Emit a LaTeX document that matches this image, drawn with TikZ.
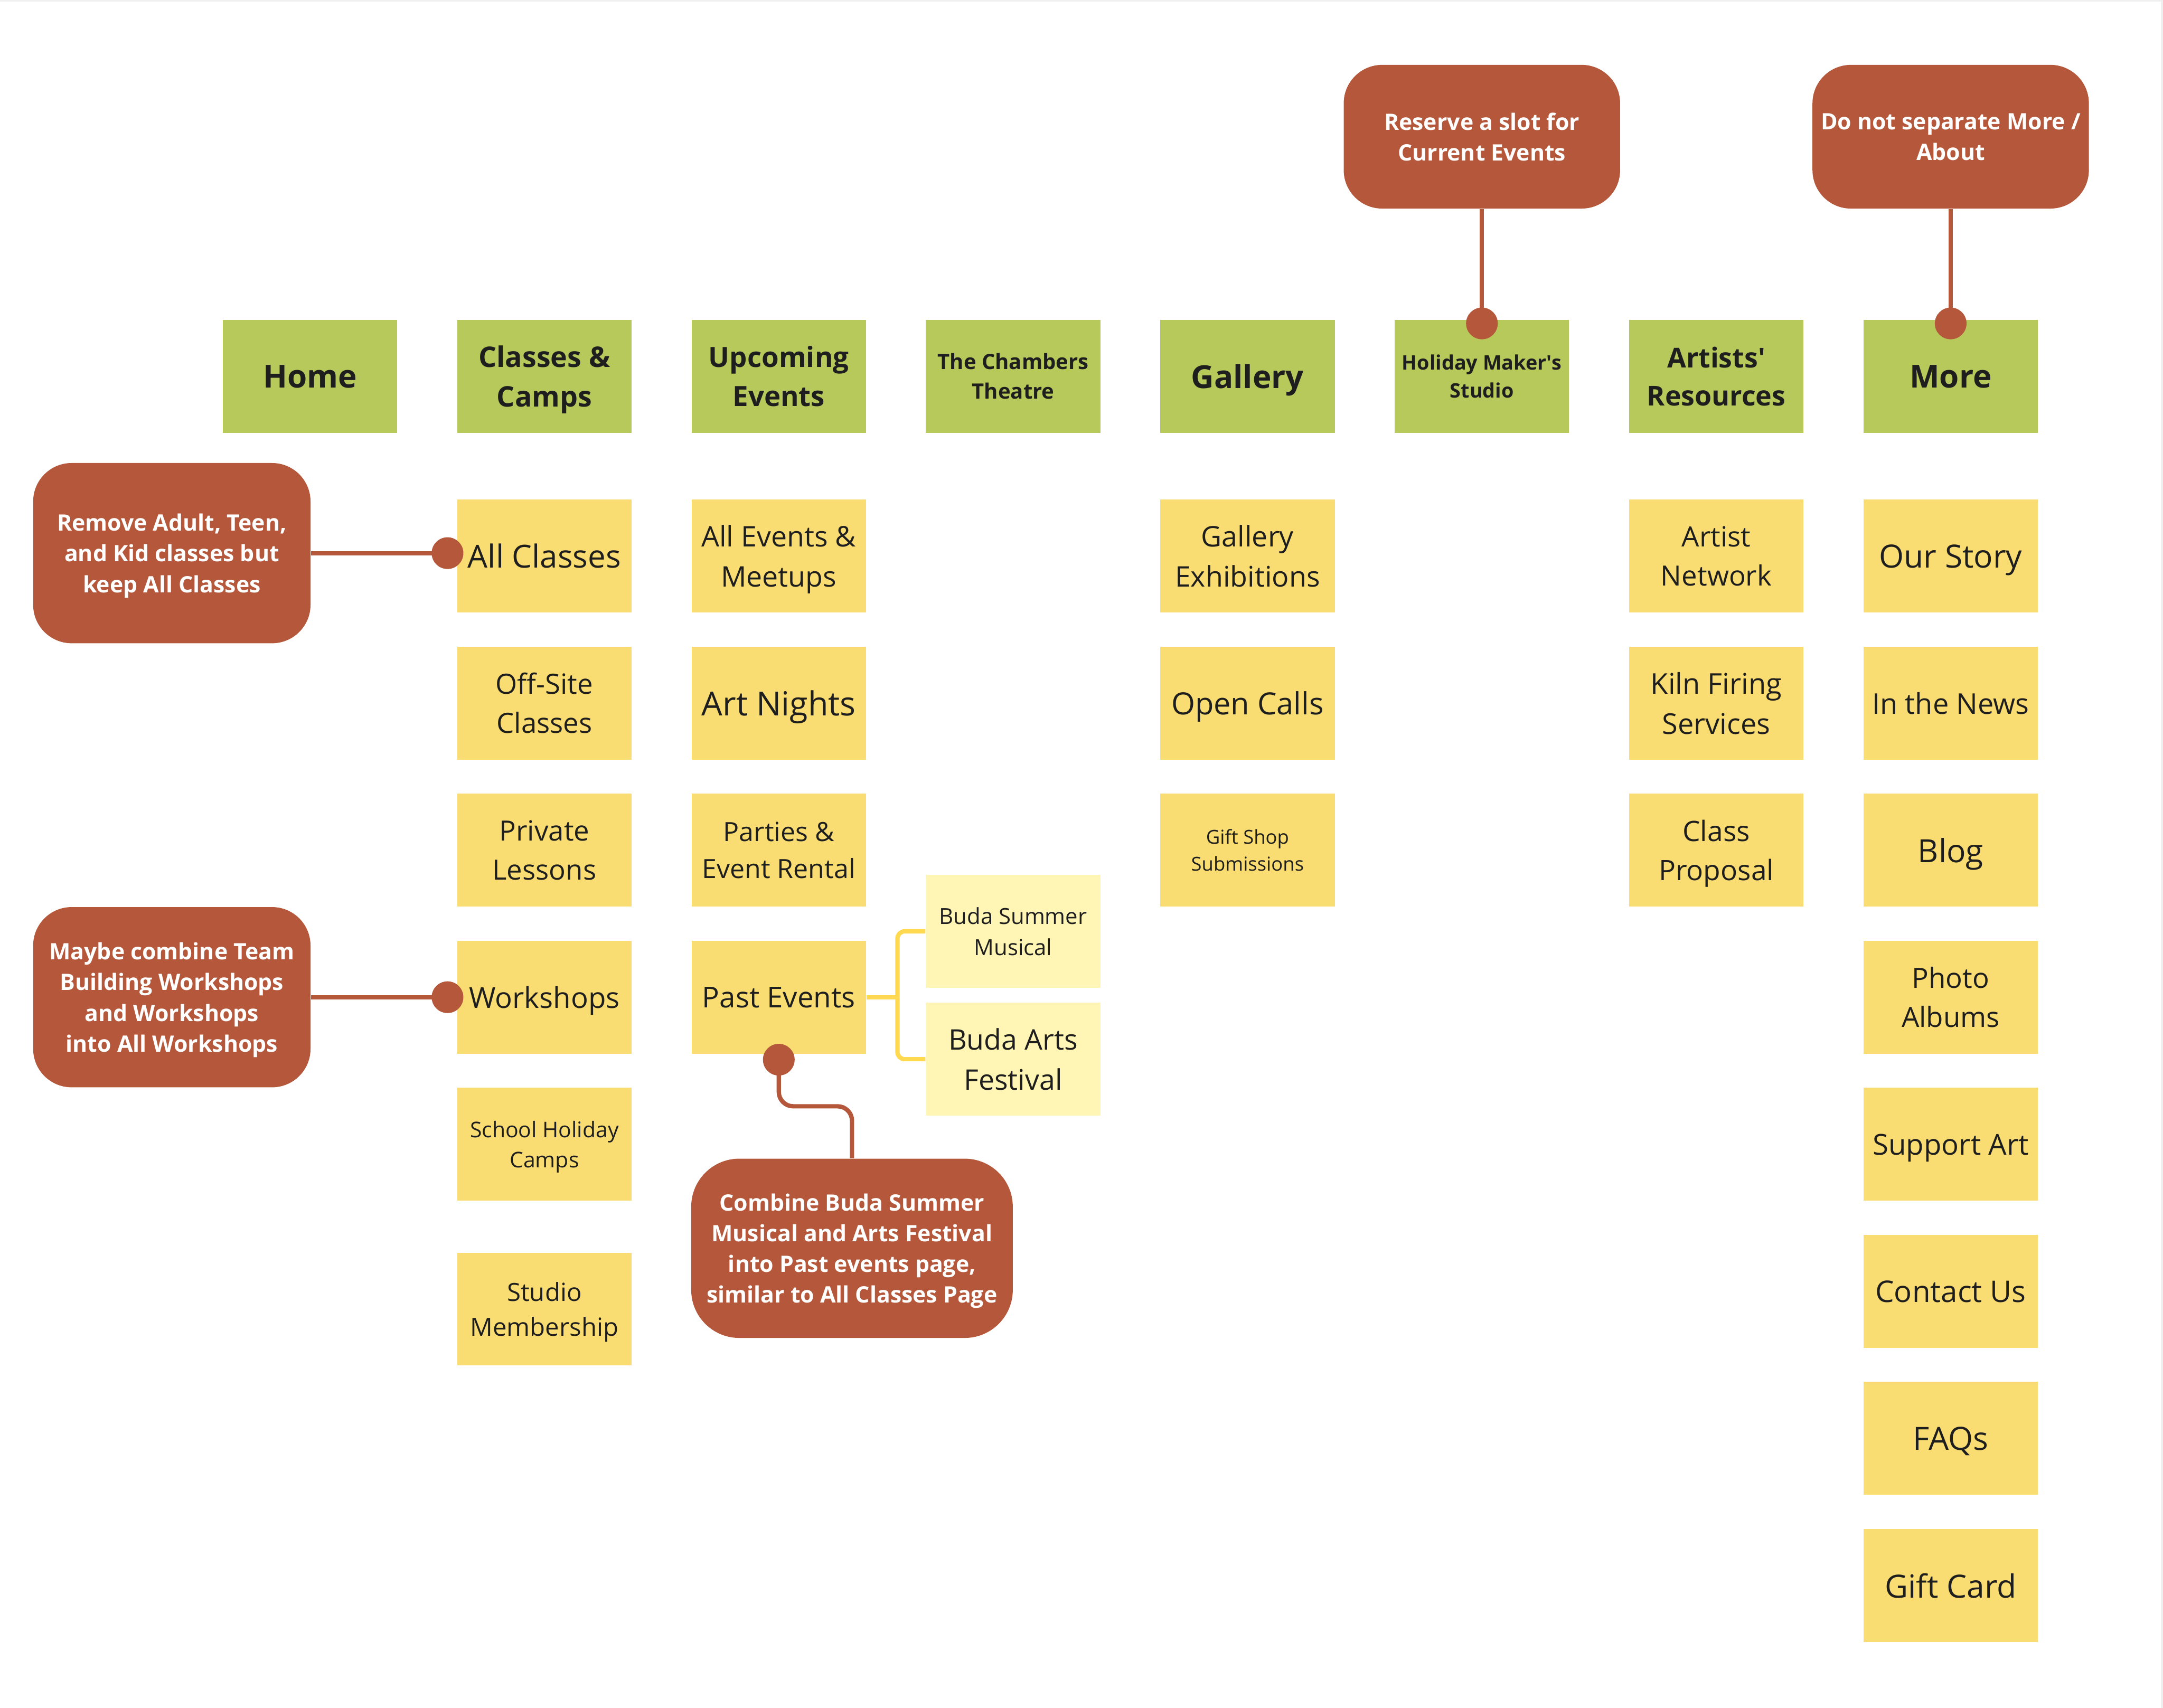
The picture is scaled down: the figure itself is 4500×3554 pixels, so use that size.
\documentclass[tikz,border=0pt]{standalone}
\usepackage{fontspec}
\setmainfont{Open Sans}
\definecolor{hdr}{HTML}{B8C95B}
\definecolor{itm}{HTML}{F9DD72}
\definecolor{subc}{HTML}{FFF5B4}
\definecolor{note}{HTML}{B5573A}
\definecolor{brk}{HTML}{FFD94F}
\definecolor{ink}{HTML}{1E1E1E}
\definecolor{edge}{HTML}{EFEFEF}
\newcommand\fsz[1]{\fontsize{#1}{\dimexpr #1pt*14/10\relax}\selectfont}
\tikzset{
  box/.style={rectangle, minimum width=72.6pt, minimum height=47pt, inner sep=0pt, align=center, text=ink, text depth=0pt},
  hdrbox/.style={box, fill=hdr},
  itmbox/.style={box, fill=itm},
  subbox/.style={box, fill=subc},
  notebox/.style={rectangle, rounded corners=16pt, fill=note, text=white, align=center, inner sep=0pt, text depth=0pt,
    font=\bfseries\fontsize{9.4}{12.8}\selectfont},
  wire/.style={draw=note, line width=1.8pt},
  dotc/.style={circle, fill=note, minimum size=13.2pt, inner sep=0pt},
  bracew/.style={draw=brk, line width=1.8pt, rounded corners=3pt}
}
\begin{document}
\begin{tikzpicture}[x=0.2pt, y=-0.2pt]
\useasboundingbox (0,0) rectangle (4500,3554);
\fill[white] (0,0) rectangle (4500,3554);
\fill[edge] (4496,0) rectangle (4500,3554);
\fill[edge] (0,0) rectangle (4500,3);

% header row
\node[hdrbox, font=\bfseries\fsz{13.2}] (home) at (645,783) {Home};
\node[hdrbox, font=\bfseries\fsz{11.8}] (cls) at (1132.6,783) {Classes \&\\Camps};
\node[hdrbox, font=\bfseries\fsz{11.6}] (upc) at (1620.2,783) {Upcoming\\Events};
\node[hdrbox, font=\bfseries\fsz{8.8}] (cham) at (2107.8,783) {The Chambers\\Theatre};
\node[hdrbox, font=\bfseries\fsz{13.2}] (gal) at (2595.4,783) {Gallery};
\node[hdrbox, font=\bfseries\fsz{8.3}] (hol) at (3083,783) {Holiday Maker\textquotesingle s\\Studio};
\node[hdrbox, font=\bfseries\fsz{11.4}] (art) at (3570.6,783) {Artists\textquotesingle\\Resources};
\node[hdrbox, font=\bfseries\fsz{13.2}] (more) at (4058.2,783) {More};

% classes column
\node[itmbox, font=\fsz{13.2}] (allc) at (1132.6,1157) {All Classes};
\node[itmbox, font=\fsz{11.6}] (offs) at (1132.6,1463) {Off-Site\\Classes};
\node[itmbox, font=\fsz{11.6}] (priv) at (1132.6,1769) {Private\\Lessons};
\node[itmbox, font=\fsz{12}] (work) at (1132.6,2075) {Workshops};
\node[itmbox, font=\fsz{9}] (shc) at (1132.6,2381) {School Holiday\\Camps};
\node[itmbox, font=\fsz{10.4}] (stud) at (1132.6,2724) {Studio\\Membership};

% upcoming column
\node[itmbox, font=\fsz{11.8}] (alle) at (1620.2,1157) {All Events \&\\Meetups};
\node[itmbox, font=\fsz{13.8}] (artn) at (1620.2,1463) {Art Nights};
\node[itmbox, font=\fsz{11}] (part) at (1620.2,1769) {Parties \&\\Event Rental};
\node[itmbox, font=\fsz{12}] (past) at (1620.2,2075) {Past Events};

% chambers sub items
\node[subbox, font=\fsz{9.2}] (bsm) at (2107.8,1938) {Buda Summer\\Musical};
\node[subbox, font=\fsz{11.8}] (baf) at (2107.8,2204) {Buda Arts\\Festival};

% gallery column
\node[itmbox, font=\fsz{11.8}] (gex) at (2595.4,1157) {Gallery\\Exhibitions};
\node[itmbox, font=\fsz{12.7}] (opc) at (2595.4,1463) {Open Calls};
\node[itmbox, font=\fsz{8}] (gss) at (2595.4,1769) {Gift Shop\\Submissions};

% artists column
\node[itmbox, font=\fsz{11.6}] (anet) at (3570.6,1157) {Artist\\Network};
\node[itmbox, font=\fsz{11.9}] (kiln) at (3570.6,1463) {Kiln Firing\\Services};
\node[itmbox, font=\fsz{11.7}] (cprop) at (3570.6,1769) {Class\\Proposal};

% more column
\node[itmbox, font=\fsz{13.3}] (ours) at (4058.2,1157) {Our Story};
\node[itmbox, font=\fsz{11.9}] (news) at (4058.2,1463) {In the News};
\node[itmbox, font=\fsz{13.3}] (blog) at (4058.2,1769) {Blog};
\node[itmbox, font=\fsz{11.6}] (phot) at (4058.2,2075) {Photo\\Albums};
\node[itmbox, font=\fsz{12}] (supp) at (4058.2,2381) {Support Art};
\node[itmbox, font=\fsz{12.4}] (cont) at (4058.2,2687) {Contact Us};
\node[itmbox, font=\fsz{13.3}] (faq) at (4058.2,2993) {FAQs};
\node[itmbox, font=\fsz{13.3}] (gcard) at (4058.2,3299) {Gift Card};

% callouts
\node[notebox, minimum width=115pt, minimum height=59.8pt] (nres) at (3083,284.5) {Reserve a slot for\\Current Events};
\node[notebox, minimum width=115pt, minimum height=59.8pt] (nmore) at (4058.2,284.5) {Do not separate More /\\About};
\node[notebox, minimum width=115.4pt, minimum height=75pt] (nrem) at (357.5,1151) {Remove Adult, Teen,\\and Kid classes but\\keep All Classes};
\node[notebox, minimum width=115.4pt, minimum height=75pt] (nmay) at (357.5,2075) {Maybe combine Team\\Building Workshops\\and Workshops\\into All Workshops};
\node[notebox, rounded corners=20pt, minimum width=133.8pt, minimum height=74.6pt] (ncomb) at (1772.5,2597.5) {Combine Buda Summer\\Musical and Arts Festival\\into Past events page,\\similar to All Classes Page};

% dots
\node[dotc] (dhol) at (3083,673) {};
\node[dotc] (dmore) at (4058.2,673) {};
\node[dotc] (dallc) at (931,1151) {};
\node[dotc] (dwork) at (931,2075) {};
\node[dotc] (dpast) at (1620.2,2205) {};

% wires
\draw[wire] (nres.south) -- (dhol.center);
\draw[wire] (nmore.south) -- (dmore.center);
\draw[wire] (nrem.east) -- (dallc.center);
\draw[wire] (nmay.east) -- (dwork.center);
\coordinate (kink) at (1772.5,2302);
\draw[wire, rounded corners=6pt] (dpast.center) |- (kink) -- (ncomb.north);

% yellow bracket
\coordinate (bj) at (1867,2075);
\draw[bracew] (past.east) -- (bj);
\draw[bracew] (bj) |- (bsm.west);
\draw[bracew] (bj) |- (baf.west);
\end{tikzpicture}
\end{document}
